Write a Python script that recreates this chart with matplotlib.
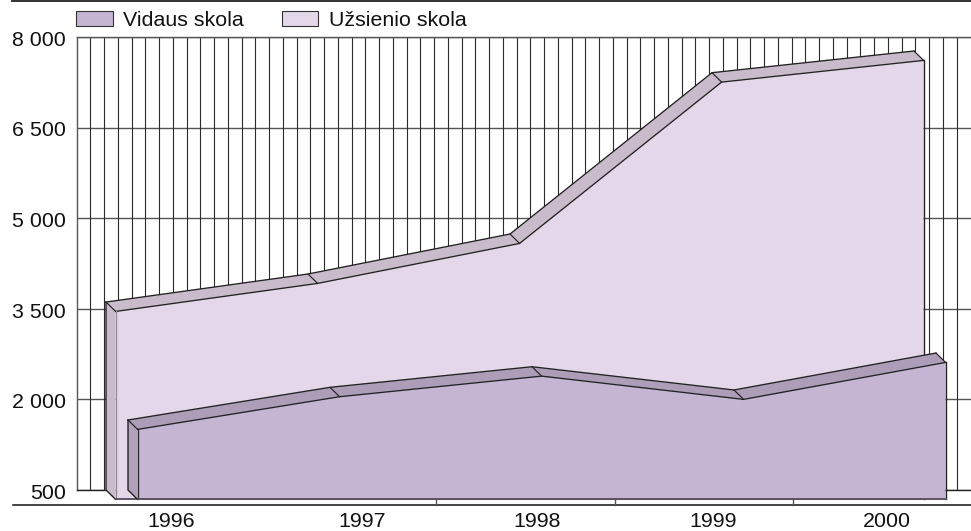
import numpy as np
import matplotlib
matplotlib.use("Agg")
import matplotlib.pyplot as plt
from matplotlib.patches import Patch
from matplotlib.lines import Line2D
from matplotlib.transforms import ScaledTranslation

years = ["1996", "1997", "1998", "1999", "2000"]
vidaus = [1659, 2200, 2541, 2156, 2768]
uzsienio = [3612, 4076, 4738, 7409, 7768]
y_ticks = [500, 2000, 3500, 5000, 6500, 8000]
y_labels = ["500", "2 000", "3 500", "5 000", "6 500", "8 000"]
series_names = ["Vidaus skola", "Užsienio skola"]

W, H = 971, 531
DPI = 100
plt.rcParams["font.family"] = ["Liberation Sans", "DejaVu Sans"]
fig = plt.figure(figsize=(W / DPI, H / DPI), dpi=DPI)

# layout in pixels
L, T, B = 76.7, 37, 490
X0, STEP = 106, 202
ax = fig.add_axes([L / W, 1 - B / H, (W - L) / W, (B - T) / H])
ax.set_ylim(500, 8000)
ax.set_xlim((L - X0) / STEP, (W - X0) / STEP)
PX_V = 7500 / (B - T)
DX, DY = 9.6 / STEP, 9.4 * PX_V     # depth offset
SHIFT = 22 / STEP                   # second series sits further forward

GRID = "#555555"
ax.set_yticks(y_ticks, y_labels, fontsize=15.4, color="#111111")
ax.tick_params(axis="y", length=0, pad=8.0)
shift_down = ScaledTranslation(0, -1.2 / DPI, fig.dpi_scale_trans)
for lab in ax.get_yticklabels():
    lab.set_transform(lab.get_transform() + shift_down)
ax.grid(axis="y", color=GRID, lw=1.0, zorder=1)
ax.set_axisbelow(True)
ax.spines["right"].set_visible(False)
for s in ["left", "top", "bottom"]:
    ax.spines[s].set_color(GRID)
    ax.spines[s].set_linewidth(1.0)
ax.spines["bottom"].set_color("#222222")
ax.spines["bottom"].set_zorder(1)
ax.spines["left"].set_zorder(1)

vx = (L + 13.75 * np.arange(1, 65) - X0) / STEP
ax.vlines(vx, 500, 8000, color="#2a2a2a", lw=0.8, zorder=1)


def area(x, v, front, top, side, zbase, left_edge):
    x = np.asarray(x, float)
    v = np.asarray(v, float)
    fx, fv = x + DX, v - DY
    floor = 500 - DY
    edge = "#222222"
    kw = dict(clip_on=False, zorder=zbase)
    # left side face
    ax.fill([x[0], fx[0], fx[0], x[0]], [v[0], fv[0], floor, 500],
            color=side, lw=0, **kw)
    # top facets
    for i in range(len(x) - 1):
        ax.fill([x[i], x[i + 1], fx[i + 1], fx[i]],
                [v[i], v[i + 1], fv[i + 1], fv[i]], color=top, lw=0, **kw)
    # front face
    ax.fill([fx[0], *fx, fx[-1]], [floor, *fv, floor], color=front, lw=0, **kw)
    lk = dict(clip_on=False, zorder=zbase + 0.5, solid_joinstyle="round")
    ax.plot(x, v, color=edge, lw=0.95, **lk)
    ax.plot(fx, fv, color=edge, lw=0.95, **lk)
    for i in range(len(x)):
        ax.plot([x[i], fx[i]], [v[i], fv[i]], color=edge, lw=0.85, **lk)
    ax.plot([x[0], x[0], fx[0]], [v[0], 500, floor], color=edge, lw=1.0, **lk)
    ax.plot([fx[0], fx[0]], [fv[0], floor], color=left_edge, lw=0.9, **lk)
    ax.plot([fx[-1], fx[-1]], [fv[-1], floor], color=edge, lw=1.0, **lk)
    ax.plot([fx[0], fx[-1]], [floor, floor], color="#564b5c", lw=1.3, **lk)


idx = np.arange(len(years))
area(idx, uzsienio, "#E4D7E9", "#C9BBCB", "#C9BBCB", 3, "#8f8794")
area(idx + SHIFT, vidaus, "#C5B5D3", "#AE9DB8", "#B1A1BB", 4, "#222222")

# year labels
label_x = [0.322, 1.267, 2.134, 3.005, 3.866]
ax.set_xticks(label_x, years, fontsize=15.4, color="#111111")
ax.tick_params(axis="x", length=0, pad=16)


def figline(x0, y0, x1, y1, **kw):
    fig.add_artist(Line2D([x0 / W, x1 / W], [1 - y0 / H, 1 - y1 / H], **kw))


figline(13, 505, W, 505, color="#111111", lw=1.1)
figline(12, 1, W, 1, color="#222222", lw=1.3)
for px in (436, 615, 792.7):
    figline(px, 500, px, 505, color="#555555", lw=1.0)

handles = [Patch(facecolor="#C5B5D3", edgecolor="#333333", lw=0.8),
           Patch(facecolor="#E4D7E9", edgecolor="#333333", lw=0.8)]
fig.legend(handles, series_names, loc="upper left",
           bbox_to_anchor=(76 / W, 1 - 11 / H), ncol=2, frameon=False,
           fontsize=15.4, borderaxespad=0, borderpad=0, handlelength=1.72,
           handleheight=0.66, handletextpad=0.5, columnspacing=1.75,
           labelcolor="#111111")

fig.savefig("out.png", dpi=DPI, facecolor="white")
